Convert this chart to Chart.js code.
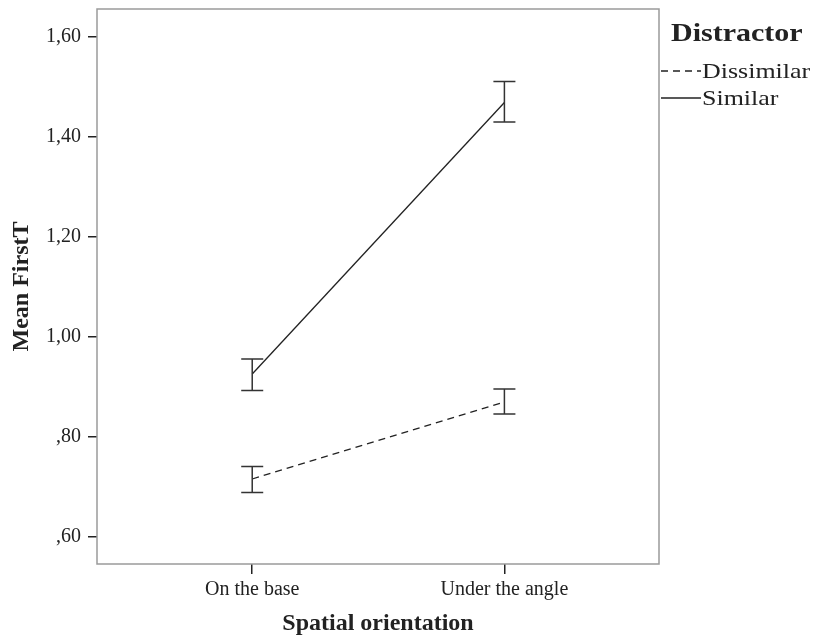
<!DOCTYPE html>
<html>
<head>
<meta charset="utf-8">
<script src="https://cdn.jsdelivr.net/npm/chart.js@4/dist/chart.umd.min.js"></script>
<style>
    body { margin: 0; background: #fff; }
    #wrap { width: 814px; height: 636px; }
</style>
</head>
<body>
<div id="wrap"><canvas id="meanChart"></canvas></div>
<script>
const categories = ["On the base", "Under the angle"];
const yTicks = [0.6, 0.8, 1.0, 1.2, 1.4, 1.6];

const dissimilarMean = [0.715, 0.869];
const dissimilarLow = [0.688, 0.845];
const dissimilarHigh = [0.740, 0.895];

const similarMean = [0.925, 1.468];
const similarLow = [0.892, 1.429];
const similarHigh = [0.955, 1.510];

const serif = "'Liberation Serif', 'Times New Roman', serif";
const ink = "#222";

function points(values) {
    return values.map((v, i) => ({ x: i + 1, y: v }));
}

function formatTick(value) {
    let s = value.toFixed(2).replace(".", ",");
    if (s.startsWith("0,")) s = s.slice(1);
    return s;
}

// frame around the plot area
const framePlugin = {
    id: "frame",
    beforeDatasetsDraw(chart) {
        const { ctx, chartArea: a } = chart;
        ctx.save();
        ctx.strokeStyle = "#9a9a9a";
        ctx.lineWidth = 1.5;
        ctx.strokeRect(a.left, a.top, a.right - a.left, a.bottom - a.top);
        ctx.restore();
    }
};

// error bars drawn through the chart scales
const errorBarPlugin = {
    id: "errorBars",
    afterDatasetsDraw(chart) {
        const { ctx, scales } = chart;
        ctx.save();
        ctx.strokeStyle = "#333";
        ctx.lineWidth = 1.5;
        chart.data.datasets.forEach(ds => {
            ds.low.forEach((lo, i) => {
                const x = scales.x.getPixelForValue(i + 1);
                const yLo = scales.y.getPixelForValue(lo);
                const yHi = scales.y.getPixelForValue(ds.high[i]);
                ctx.beginPath();
                ctx.moveTo(x, yLo);
                ctx.lineTo(x, yHi);
                ctx.moveTo(x - 11, yLo);
                ctx.lineTo(x + 11, yLo);
                ctx.moveTo(x - 11, yHi);
                ctx.lineTo(x + 11, yHi);
                ctx.stroke();
            });
        });
        ctx.restore();
    }
};

// text drawn a bit wider, like the exported original
function wideText(ctx, text, x, y, stretch) {
    ctx.save();
    ctx.translate(x, y);
    ctx.scale(stretch, 1);
    ctx.fillText(text, 0, 0);
    ctx.restore();
}

// legend on the right, SPSS style
const legendPlugin = {
    id: "sideLegend",
    afterDraw(chart) {
        const { ctx, chartArea: a } = chart;
        const x0 = a.right + 2;
        ctx.save();
        ctx.fillStyle = ink;
        ctx.textBaseline = "alphabetic";
        ctx.font = "bold 25px " + serif;
        wideText(ctx, "Distractor", x0 + 10, 41, 1.2);
        ctx.font = "22px " + serif;
        chart.data.datasets.forEach((ds, i) => {
            const y = 71 + i * 27;
            ctx.strokeStyle = ink;
            ctx.lineWidth = 1.3;
            ctx.setLineDash(ds.borderDash || []);
            ctx.beginPath();
            ctx.moveTo(x0, y);
            ctx.lineTo(x0 + 40, y);
            ctx.stroke();
            ctx.setLineDash([]);
            wideText(ctx, ds.label, x0 + 41, y + 7, 1.18);
        });
        ctx.restore();
    }
};

const meanChart = new Chart(document.getElementById("meanChart"), {
    type: "line",
    data: {
        datasets: [{
            label: "Dissimilar",
            data: points(dissimilarMean),
            low: dissimilarLow,
            high: dissimilarHigh,
            borderColor: ink,
            borderWidth: 1.3,
            borderDash: [7, 5],
            pointRadius: 0,
            fill: false
        }, {
            label: "Similar",
            data: points(similarMean),
            low: similarLow,
            high: similarHigh,
            borderColor: ink,
            borderWidth: 1.3,
            pointRadius: 0,
            fill: false
        }]
    },
    options: {
        responsive: true,
        maintainAspectRatio: false,
        animation: false,
        layout: { padding: { top: 9, right: 155, bottom: 0, left: 0 } },
        plugins: {
            legend: { display: false },
            tooltip: { enabled: false }
        },
        scales: {
            x: {
                type: "linear",
                min: 0.3845,
                max: 2.613,
                afterFit(scale) {
                    scale.height = 72;
                    scale.paddingLeft = 0;
                    scale.paddingRight = 0;
                },
                afterBuildTicks(scale) {
                    scale.ticks = categories.map((c, i) => ({ value: i + 1 }));
                },
                border: { display: false },
                grid: { drawOnChartArea: false, tickLength: 10, color: ink, lineWidth: 1.5 },
                ticks: {
                    color: ink,
                    padding: 4,
                    maxRotation: 0,
                    font: { family: serif, size: 20 },
                    callback: value => categories[value - 1]
                },
                title: {
                    display: true,
                    text: "Spatial orientation",
                    color: ink,
                    font: { family: serif, size: 24, weight: "bold" },
                    padding: { top: 0, bottom: -2 }
                }
            },
            y: {
                min: 0.545,
                max: 1.655,
                afterFit(scale) {
                    scale.width = 97;
                    scale.paddingTop = 0;
                    scale.paddingBottom = 0;
                },
                afterBuildTicks(scale) {
                    scale.ticks = yTicks.map(v => ({ value: v }));
                },
                border: { display: false },
                grid: { drawOnChartArea: false, tickLength: 9, color: ink, lineWidth: 1.5 },
                ticks: {
                    color: ink,
                    padding: 7,
                    font: { family: serif, size: 20 },
                    callback: value => formatTick(value)
                },
                title: {
                    display: true,
                    text: "Mean FirstT",
                    color: ink,
                    font: { family: serif, size: 24, weight: "bold" },
                    padding: { top: 7, bottom: 0 }
                }
            }
        }
    },
    plugins: [framePlugin, errorBarPlugin, legendPlugin]
});
</script>
</body>
</html>
